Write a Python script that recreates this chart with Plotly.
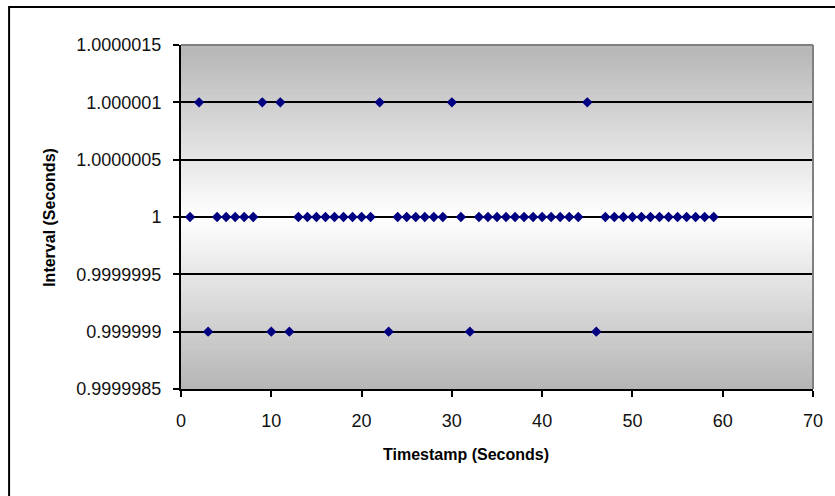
import plotly.graph_objects as go

# ---- data ----
timestamps = [1, 2, 3, 4, 5, 6, 7, 8, 9, 10, 11, 12, 13, 14, 15, 16, 17, 18, 19, 20,
              21, 22, 23, 24, 25, 26, 27, 28, 29, 30, 31, 32, 33, 34, 35, 36, 37, 38, 39, 40,
              41, 42, 43, 44, 45, 46, 47, 48, 49, 50, 51, 52, 53, 54, 55, 56, 57, 58, 59]
intervals = [1, 1.000001, 0.999999, 1, 1, 1, 1, 1, 1.000001, 0.999999,
             1.000001, 0.999999, 1, 1, 1, 1, 1, 1, 1, 1,
             1, 1.000001, 0.999999, 1, 1, 1, 1, 1, 1, 1.000001,
             1, 0.999999, 1, 1, 1, 1, 1, 1, 1, 1,
             1, 1, 1, 1, 1.000001, 0.999999, 1, 1, 1, 1,
             1, 1, 1, 1, 1, 1, 1, 1, 1]

y_tickvals = [0.9999985, 0.999999, 0.9999995, 1.0, 1.0000005, 1.000001, 1.0000015]
y_ticktext = ["0.9999985", "0.999999", "0.9999995", "1", "1.0000005", "1.000001", "1.0000015"]
x_tickvals = [0, 10, 20, 30, 40, 50, 60, 70]
x_ticktext = ["0", "10", "20", "30", "40", "50", "60", "70"]

W, H = 835, 496
L, R, T, B = 181, 18, 45, 107
PW, PH = W - L - R, H - T - B

FONT = "Liberation Sans, Arial, sans-serif"

fig = go.Figure()
fig.add_trace(go.Scatter(
    x=timestamps, y=intervals, mode="markers",
    marker=dict(symbol="diamond", size=8, color="#000080", line=dict(width=0)),
    showlegend=False, cliponaxis=False,
))

shapes = []
# vertical gradient background (gray - white - gray) as thin bands
N = 120
for i in range(N):
    y0 = i / N
    y1 = (i + 1) / N
    t = abs((y0 + y1) / 2 - 0.5) * 2
    g = int(round(255 - t * (255 - 181)))
    shapes.append(dict(type="rect", xref="x domain", yref="y domain",
                       x0=0, x1=1, y0=y0, y1=y1 + 0.002, layer="below",
                       line=dict(width=0), fillcolor=f"rgb({g},{g},{g})"))
# plot area border (top and right, gray)
shapes.append(dict(type="line", xref="x domain", yref="y domain", x0=0, x1=1, y0=1, y1=1,
                   line=dict(color="#808080", width=2), layer="above"))
shapes.append(dict(type="line", xref="x domain", yref="y domain", x0=1, x1=1, y0=0, y1=1,
                   line=dict(color="#808080", width=2), layer="above"))
# outer chart border (top and left visible)
bx = (8 - L) / PW
by = (H - B - 7) / PH
shapes.append(dict(type="rect", xref="paper", yref="paper", x0=bx, x1=3, y0=-3, y1=by,
                   line=dict(color="black", width=2), fillcolor="rgba(0,0,0,0)", layer="above"))

annotations = [
    dict(text="<b>Interval (Seconds)</b>", xref="paper", yref="paper",
         x=(48 - L) / PW, y=0.5, textangle=-90, showarrow=False,
         font=dict(family=FONT, size=16, color="black"), xanchor="center", yanchor="middle"),
    dict(text="<b>Timestamp (Seconds)</b>", xref="paper", yref="paper",
         x=(468 - L) / PW, y=-(455 - (H - B)) / PH, showarrow=False,
         font=dict(family=FONT, size=16, color="black"), xanchor="center", yanchor="middle"),
]

fig.update_layout(
    width=W, height=H,
    margin=dict(l=L, r=R, t=T, b=B, pad=0),
    paper_bgcolor="white", plot_bgcolor="rgba(0,0,0,0)",
    shapes=shapes, annotations=annotations,
    font=dict(family=FONT, size=18, color="black"),
    showlegend=False,
)
fig.update_xaxes(
    range=[0, 70], tickvals=x_tickvals, ticktext=x_ticktext,
    showgrid=False, zeroline=False,
    showline=True, linecolor="black", linewidth=2,
    ticks="outside", ticklen=6, tickwidth=2, tickcolor="black",
    tickfont=dict(family=FONT, size=18, color="#111"),
    ticklabelstandoff=8,
)
fig.update_yaxes(
    range=[0.9999985, 1.0000015], tickvals=y_tickvals, ticktext=y_ticktext,
    showgrid=True, gridcolor="black", gridwidth=1.5, zeroline=False,
    showline=True, linecolor="black", linewidth=2,
    ticks="outside", ticklen=6, tickwidth=2, tickcolor="black",
    tickfont=dict(family=FONT, size=18, color="#111"),
    ticklabelstandoff=8,
)

fig.write_html("out.html")
